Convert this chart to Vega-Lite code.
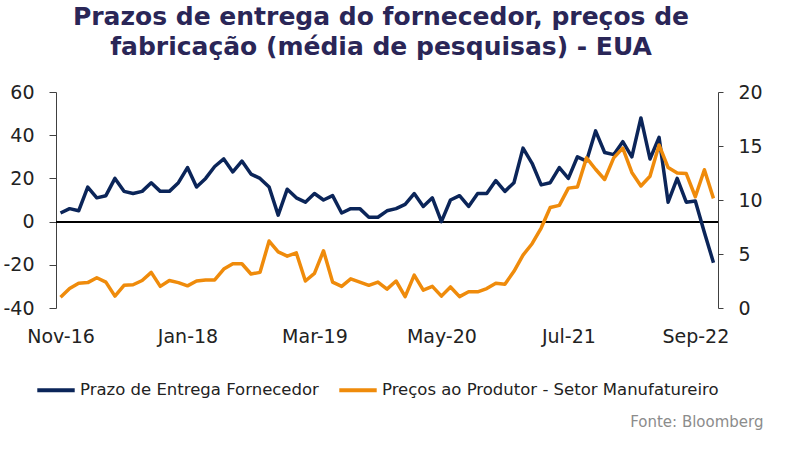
{
  "$schema": "https://vega.github.io/schema/vega-lite/v6.json",
  "width": 662,
  "height": 216,
  "autosize": {"type": "none"},
  "padding": {"left": 56, "top": 92, "right": 67, "bottom": 141},
  "background": "white",
  "title": {
    "text": ["Prazos de entrega do fornecedor, preços de", "fabricação (média de pesquisas) - EUA"],
    "anchor": "middle",
    "frame": "group",
    "font": "DejaVu Sans",
    "fontSize": 25,
    "fontWeight": "bold",
    "color": "#2a2657",
    "lineHeight": 30,
    "offset": 23,
    "dx": -6
  },
  "config": {"view": {"stroke": null}, "font": "DejaVu Sans"},
  "data": {
    "values": [
      {"mes": "Nov-16", "prazo": 4, "precos": 1.0},
      {"mes": "Dec-16", "prazo": 6, "precos": 1.8},
      {"mes": "Jan-17", "prazo": 5, "precos": 2.3},
      {"mes": "Feb-17", "prazo": 16, "precos": 2.35},
      {"mes": "Mar-17", "prazo": 11, "precos": 2.8},
      {"mes": "Apr-17", "prazo": 12, "precos": 2.4},
      {"mes": "May-17", "prazo": 20, "precos": 1.1},
      {"mes": "Jun-17", "prazo": 14, "precos": 2.1},
      {"mes": "Jul-17", "prazo": 13, "precos": 2.15},
      {"mes": "Aug-17", "prazo": 14, "precos": 2.55},
      {"mes": "Sep-17", "prazo": 18, "precos": 3.3},
      {"mes": "Oct-17", "prazo": 14, "precos": 2.0},
      {"mes": "Nov-17", "prazo": 14, "precos": 2.55},
      {"mes": "Dec-17", "prazo": 18, "precos": 2.35},
      {"mes": "Jan-18", "prazo": 25, "precos": 2.05},
      {"mes": "Feb-18", "prazo": 16, "precos": 2.5},
      {"mes": "Mar-18", "prazo": 20, "precos": 2.6},
      {"mes": "Apr-18", "prazo": 25.5, "precos": 2.6},
      {"mes": "May-18", "prazo": 29, "precos": 3.6},
      {"mes": "Jun-18", "prazo": 23, "precos": 4.1},
      {"mes": "Jul-18", "prazo": 28, "precos": 4.1},
      {"mes": "Aug-18", "prazo": 22, "precos": 3.15},
      {"mes": "Sep-18", "prazo": 20, "precos": 3.3},
      {"mes": "Oct-18", "prazo": 16, "precos": 6.2},
      {"mes": "Nov-18", "prazo": 3, "precos": 5.2},
      {"mes": "Dec-18", "prazo": 15, "precos": 4.8},
      {"mes": "Jan-19", "prazo": 11, "precos": 5.1},
      {"mes": "Feb-19", "prazo": 9, "precos": 2.5},
      {"mes": "Mar-19", "prazo": 13, "precos": 3.2},
      {"mes": "Apr-19", "prazo": 10, "precos": 5.3},
      {"mes": "May-19", "prazo": 12, "precos": 2.4},
      {"mes": "Jun-19", "prazo": 4, "precos": 2.0},
      {"mes": "Jul-19", "prazo": 6, "precos": 2.7},
      {"mes": "Aug-19", "prazo": 6, "precos": 2.4},
      {"mes": "Sep-19", "prazo": 2, "precos": 2.1},
      {"mes": "Oct-19", "prazo": 2, "precos": 2.4},
      {"mes": "Nov-19", "prazo": 5, "precos": 1.75},
      {"mes": "Dec-19", "prazo": 6, "precos": 2.5},
      {"mes": "Jan-20", "prazo": 8, "precos": 1.05},
      {"mes": "Feb-20", "prazo": 13, "precos": 3.05},
      {"mes": "Mar-20", "prazo": 7, "precos": 1.65},
      {"mes": "Apr-20", "prazo": 11, "precos": 2.0},
      {"mes": "May-20", "prazo": 0, "precos": 1.1},
      {"mes": "Jun-20", "prazo": 10, "precos": 1.95},
      {"mes": "Jul-20", "prazo": 12, "precos": 1.05},
      {"mes": "Aug-20", "prazo": 7, "precos": 1.5},
      {"mes": "Sep-20", "prazo": 13, "precos": 1.5},
      {"mes": "Oct-20", "prazo": 13, "precos": 1.8},
      {"mes": "Nov-20", "prazo": 19, "precos": 2.3},
      {"mes": "Dec-20", "prazo": 14, "precos": 2.2},
      {"mes": "Jan-21", "prazo": 18, "precos": 3.4},
      {"mes": "Feb-21", "prazo": 34, "precos": 4.9},
      {"mes": "Mar-21", "prazo": 27, "precos": 5.95},
      {"mes": "Apr-21", "prazo": 17, "precos": 7.4},
      {"mes": "May-21", "prazo": 18, "precos": 9.3},
      {"mes": "Jun-21", "prazo": 25, "precos": 9.5},
      {"mes": "Jul-21", "prazo": 20, "precos": 11.1},
      {"mes": "Aug-21", "prazo": 30, "precos": 11.2},
      {"mes": "Sep-21", "prazo": 28, "precos": 13.9},
      {"mes": "Oct-21", "prazo": 42, "precos": 12.85},
      {"mes": "Nov-21", "prazo": 32, "precos": 11.9},
      {"mes": "Dec-21", "prazo": 31, "precos": 13.9},
      {"mes": "Jan-22", "prazo": 37, "precos": 14.8},
      {"mes": "Feb-22", "prazo": 30, "precos": 12.55},
      {"mes": "Mar-22", "prazo": 48, "precos": 11.3},
      {"mes": "Apr-22", "prazo": 29, "precos": 12.2},
      {"mes": "May-22", "prazo": 39, "precos": 15.1},
      {"mes": "Jun-22", "prazo": 9, "precos": 13.0},
      {"mes": "Jul-22", "prazo": 20, "precos": 12.5},
      {"mes": "Aug-22", "prazo": 9, "precos": 12.45},
      {"mes": "Sep-22", "prazo": 9.5, "precos": 10.3},
      {"mes": "Oct-22", "prazo": -5, "precos": 12.8},
      {"mes": "Nov-22", "prazo": -19, "precos": 10.15}
    ]
  },
  "layer": [
    {
      "mark": {"type": "rule", "color": "#000000", "strokeWidth": 1.2},
      "encoding": {
        "y": {"datum": 0, "type": "quantitative", "scale": {"domain": [-40, 60], "nice": false, "zero": false}, "axis": null}
      }
    },
    {
      "mark": {"type": "line", "strokeWidth": 3.5, "strokeJoin": "round"},
      "encoding": {
        "x": {
          "field": "mes",
          "type": "ordinal",
          "sort": null,
          "scale": {"type": "point", "padding": 0.5},
          "axis": {
            "values": ["Nov-16", "Jan-18", "Mar-19", "May-20", "Jul-21", "Sep-22"],
            "domain": false,
            "ticks": false,
            "labelAngle": 0,
            "labelFont": "DejaVu Sans",
            "labelFontSize": 19,
            "labelColor": "#222222",
            "labelPadding": 19,
            "title": "Fonte: Bloomberg",
            "titleFont": "DejaVu Sans",
            "titleFontSize": 15,
            "titleFontWeight": "normal",
            "titleColor": "#8c8c8c",
            "titleAnchor": "end",
            "titleAlign": "right",
            "titleBaseline": "middle",
            "titleX": 707,
            "titleY": 113
          }
        },
        "y": {
          "field": "prazo",
          "type": "quantitative",
          "scale": {"domain": [-40, 60], "nice": false, "zero": false},
          "axis": {
            "orient": "left",
            "values": [-40, -20, 0, 20, 40, 60],
            "labelExpr": "replace(datum.label, '−', '-')",
            "grid": false,
            "domainColor": "#404040",
            "tickColor": "#404040",
            "tickSize": 7,
            "labelPadding": 15,
            "labelFont": "DejaVu Sans",
            "labelFontSize": 19,
            "labelColor": "#222222",
            "title": null
          }
        },
        "color": {
          "datum": "Prazo de Entrega Fornecedor",
          "type": "nominal",
          "scale": {
            "domain": ["Prazo de Entrega Fornecedor", "Preços ao Produtor - Setor Manufatureiro"],
            "range": ["#0b2559", "#ef8b0b"]
          },
          "legend": {
            "orient": "none",
            "legendX": -21,
            "legendY": 277,
            "direction": "horizontal",
            "title": null,
            "symbolType": "stroke",
            "symbolStrokeWidth": 4,
            "symbolSize": 1400,
            "labelFont": "DejaVu Sans",
            "labelFontSize": 16.5,
            "labelColor": "#222222",
            "labelOffset": 3,
            "labelLimit": 400,
            "columnPadding": 12
          }
        }
      }
    },
    {
      "mark": {"type": "line", "strokeWidth": 3.5, "strokeJoin": "round"},
      "encoding": {
        "x": {"field": "mes", "type": "ordinal", "sort": null, "scale": {"type": "point", "padding": 0.5}},
        "y": {
          "field": "precos",
          "type": "quantitative",
          "scale": {"domain": [0, 20], "nice": false},
          "axis": {
            "orient": "right",
            "values": [0, 5, 10, 15, 20],
            "grid": false,
            "domainColor": "#404040",
            "tickColor": "#404040",
            "tickSize": 5,
            "labelPadding": 15,
            "labelFont": "DejaVu Sans",
            "labelFontSize": 19,
            "labelColor": "#222222",
            "title": null
          }
        },
        "color": {"datum": "Preços ao Produtor - Setor Manufatureiro", "type": "nominal"}
      }
    }
  ],
  "resolve": {"scale": {"y": "independent"}}
}
